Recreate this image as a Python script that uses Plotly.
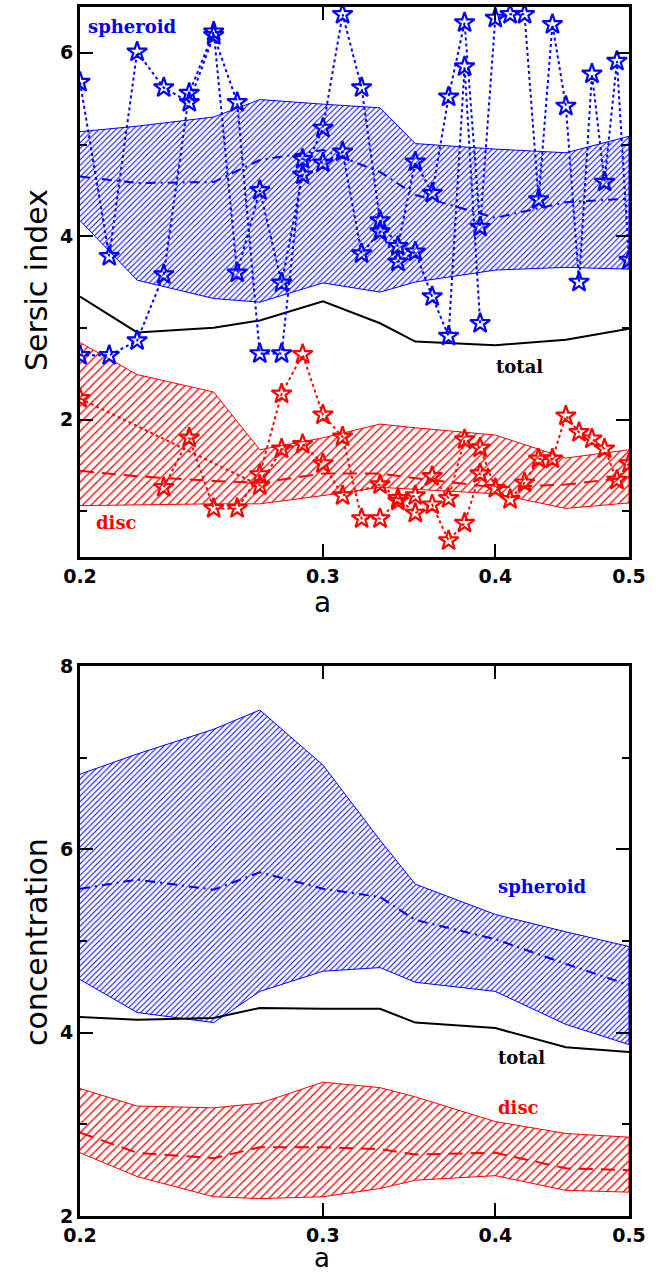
import plotly.graph_objects as go

# ---------------- data ----------------
# band / median abscissae (expansion factor a)
a_band = [0.20, 0.22, 0.25, 0.27, 0.30, 0.33, 0.35, 0.40, 0.45, 0.50]

# --- top panel: Sersic index ---
n_sph_hi = [5.14, 5.20, 5.30, 5.49, 5.44, 5.40, 5.01, 4.95, 4.91, 5.09]
n_sph_lo = [4.17, 3.52, 3.32, 3.28, 3.49, 3.39, 3.50, 3.63, 3.66, 3.64]
n_sph_med = [4.65, 4.58, 4.59, 4.83, 4.94, 4.70, 4.45, 4.20, 4.37, 4.41]
n_disc_hi = [2.84, 2.49, 2.30, 1.67, 1.80, 1.95, 1.91, 1.83, 1.58, 1.67]
n_disc_lo = [1.06, 1.07, 1.08, 1.08, 1.17, 1.26, 1.24, 1.19, 1.03, 1.09]
n_disc_med = [1.44, 1.38, 1.33, 1.31, 1.41, 1.41, 1.36, 1.26, 1.29, 1.37]
n_total = [3.34, 2.95, 3.00, 3.08, 3.29, 3.05, 2.85, 2.81, 2.87, 2.99]

# individual galaxies (stars)
sph1_a = [0.20, 0.21, 0.22, 0.23, 0.24, 0.25, 0.26, 0.27, 0.28, 0.29, 0.30,
          0.31, 0.32, 0.33, 0.34, 0.35, 0.36, 0.37, 0.38, 0.39]
sph1_n = [5.68, 3.78, 6.01, 5.62, 5.46, 6.19, 5.46, 2.72, 2.72, 4.84, 4.80,
          4.92, 3.81, 4.05, 3.72, 3.83, 3.34, 2.91, 5.85, 3.05]
sph2_a = [0.20, 0.21, 0.22, 0.23, 0.24, 0.25, 0.26, 0.27, 0.28, 0.29, 0.30,
          0.31, 0.32, 0.33, 0.34, 0.35, 0.36, 0.37, 0.38, 0.39, 0.40, 0.41,
          0.42, 0.43, 0.44, 0.45, 0.46, 0.47, 0.48, 0.49, 0.50]
sph2_n = [2.70, 2.70, 2.86, 3.58, 5.56, 6.23, 3.60, 4.50, 3.49, 4.67, 5.18,
          6.42, 5.62, 4.17, 3.89, 4.81, 4.47, 5.52, 6.33, 4.10, 6.38, 6.42,
          6.42, 4.40, 6.31, 5.42, 3.50, 5.77, 4.59, 5.91, 3.74]
disc1_a = [0.20, 0.27, 0.28, 0.29, 0.30, 0.31, 0.33, 0.34, 0.35, 0.36, 0.37,
           0.38, 0.39]
disc1_n = [2.23, 1.28, 1.68, 1.73, 1.52, 1.17, 1.29, 1.14, 0.98, 1.07, 0.68,
           0.87, 1.41]
disc2_a = [0.23, 0.24, 0.25, 0.26, 0.27, 0.28, 0.29, 0.30, 0.31, 0.32, 0.33,
           0.34, 0.35, 0.36, 0.37, 0.38, 0.39, 0.40, 0.41, 0.42, 0.43, 0.44,
           0.45, 0.46, 0.47, 0.48, 0.49, 0.50]
disc2_n = [1.26, 1.80, 1.03, 1.03, 1.40, 2.28, 2.71, 2.05, 1.81, 0.92, 0.92,
           1.11, 1.17, 1.38, 1.14, 1.78, 1.69, 1.25, 1.13, 1.31, 1.57, 1.57,
           2.04, 1.86, 1.79, 1.68, 1.34, 1.52]

# --- bottom panel: concentration ---
c_sph_hi = [6.82, 7.04, 7.31, 7.52, 6.92, 6.10, 5.62, 5.29, 5.10, 4.94]
c_sph_lo = [4.58, 4.22, 4.11, 4.45, 4.67, 4.71, 4.55, 4.45, 4.09, 3.87]
c_sph_med = [5.57, 5.67, 5.56, 5.75, 5.57, 5.48, 5.23, 5.02, 4.75, 4.52]
c_disc_hi = [3.39, 3.20, 3.18, 3.23, 3.46, 3.40, 3.30, 3.03, 2.90, 2.86]
c_disc_lo = [2.69, 2.43, 2.21, 2.19, 2.21, 2.30, 2.39, 2.44, 2.28, 2.26]
c_disc_med = [2.91, 2.69, 2.63, 2.75, 2.75, 2.73, 2.67, 2.69, 2.52, 2.50]
c_total = [4.17, 4.14, 4.16, 4.27, 4.26, 4.26, 4.11, 4.05, 3.84, 3.79]

x_ticks = [0.2, 0.3, 0.4, 0.5]
x_ticklabels = ["0.2", "0.3", "0.4", "0.5"]

# ---------------- figure ----------------
W, H = 660, 1274
BLUE = "#0000ff"
RED = "#ff0000"
fig = go.Figure()


def band(xs, hi, lo, color, size, sol, xa, ya):
    fig.add_trace(go.Scatter(
        x=xs + xs[::-1], y=hi + lo[::-1], xaxis=xa, yaxis=ya,
        mode="lines", fill="toself", fillcolor="rgba(255,255,255,0)",
        fillpattern=dict(shape="/", fgcolor=color, bgcolor="rgba(255,255,255,0)",
                         size=size, solidity=sol),
        line=dict(color=color, width=1), showlegend=False, hoverinfo="skip"))


def line(xs, ys, color, dash, width, xa, ya):
    fig.add_trace(go.Scatter(x=xs, y=ys, xaxis=xa, yaxis=ya, mode="lines",
                             line=dict(color=color, dash=dash, width=width),
                             showlegend=False))


def stars(xs, ys, color, xa, ya):
    fig.add_trace(go.Scatter(
        x=xs, y=ys, xaxis=xa, yaxis=ya, mode="lines+markers",
        line=dict(color=color, dash="dot", width=2),
        marker=dict(symbol="star-open", size=15, color=color,
                    line=dict(color=color, width=2.2)),
        cliponaxis=True, showlegend=False))


# top panel
band(a_band, n_disc_hi, n_disc_lo, RED, 6, 0.22, "x", "y")
band(a_band, n_sph_hi, n_sph_lo, BLUE, 4, 0.25, "x", "y")
line(a_band, n_total, "black", "solid", 2, "x", "y")
line(a_band, n_disc_med, RED, "14px,8px", 2, "x", "y")
line(a_band, n_sph_med, BLUE, "10px,5px,2px,5px", 2, "x", "y")
stars(disc1_a, disc1_n, RED, "x", "y")
stars(disc2_a, disc2_n, RED, "x", "y")
stars(sph1_a, sph1_n, BLUE, "x", "y")
stars(sph2_a, sph2_n, BLUE, "x", "y")

# bottom panel
band(a_band, c_disc_hi, c_disc_lo, RED, 6, 0.22, "x2", "y2")
band(a_band, c_sph_hi, c_sph_lo, BLUE, 4, 0.25, "x2", "y2")
line(a_band, c_total, "black", "solid", 2, "x2", "y2")
line(a_band, c_disc_med, RED, "14px,8px", 2, "x2", "y2")
line(a_band, c_sph_med, BLUE, "10px,5px,2px,5px", 2, "x2", "y2")

# axes geometry (pixels)
X0, X1 = 80, 629
T0, T1 = 7, 557
B0, B1 = 666, 1216
xdom = [X0 / W, X1 / W]
tick_font = dict(family="DejaVu Sans", size=19, color="black", weight="bold")

common_x = dict(type="log", range=[-0.69897, -0.30103], tickvals=x_ticks,
                ticktext=x_ticklabels, ticks="inside", ticklen=13, tickwidth=2,
                tickcolor="black", showline=True, linewidth=3, linecolor="black",
                mirror="ticks", showgrid=False, zeroline=False, tickfont=tick_font,
                domain=xdom, automargin=False)
common_y = dict(ticks="inside", ticklen=13, tickwidth=2, tickcolor="black",
                showline=True, linewidth=3, linecolor="black", mirror="ticks",
                showgrid=False, zeroline=False, tickfont=tick_font, dtick=2,
                automargin=False,
                minor=dict(dtick=1, ticks="inside", ticklen=7, tickwidth=2,
                           tickcolor="black", showgrid=False))

fig.update_layout(
    template="none",
    width=W, height=H, margin=dict(l=0, r=0, t=0, b=0, autoexpand=False),
    plot_bgcolor="white", paper_bgcolor="white", showlegend=False,
    xaxis=dict(common_x, anchor="y"),
    yaxis=dict(common_y, range=[0.5, 6.5], tick0=0,
               domain=[1 - T1 / H, 1 - T0 / H], anchor="x"),
    xaxis2=dict(common_x, anchor="y2"),
    yaxis2=dict(common_y, range=[2, 8], tick0=0,
                domain=[1 - B1 / H, 1 - B0 / H], anchor="x2"),
)

lab_font = "DejaVu Serif"


def note(text, px, py, color, size=17, bold=True, angle=0, family=lab_font):
    fig.add_annotation(
        text=f"<b>{text}</b>" if bold else text, x=px / W, y=1 - py / H,
        xref="paper", yref="paper", showarrow=False, textangle=angle,
        font=dict(family=family, size=size, color=color),
        xanchor="center", yanchor="middle")


note("spheroid", 132, 27, BLUE, size=18)
note("disc", 116, 522, RED, size=18)
note("total", 519, 366, "black", size=18)
note("spheroid", 542, 887, BLUE, size=18)
note("total", 521, 1057, "black", size=18)
note("disc", 518, 1107, RED, size=18)

note("Sersic index", 36, 280, "black", size=30, bold=False, angle=-90,
     family="DejaVu Sans")
note("concentration", 36, 942, "black", size=30, bold=False, angle=-90,
     family="DejaVu Sans")
note("a", 322, 603, "black", size=28, bold=False, family="DejaVu Sans")
note("a", 322, 1258, "black", size=26, bold=False, family="DejaVu Sans")

fig.write_html("out.html")
